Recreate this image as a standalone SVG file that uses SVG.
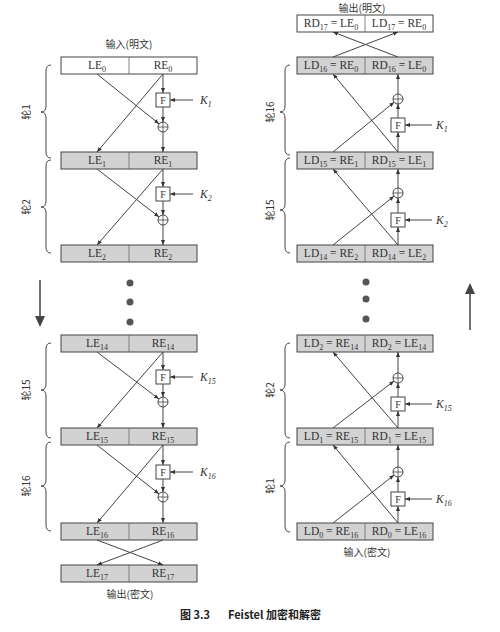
<svg xmlns="http://www.w3.org/2000/svg" width="500" height="632" viewBox="0 0 500 632">
<style>
.box{stroke:#444;stroke-width:1}
.w{fill:#fff}
.g{fill:#d2d2d2}
.div{stroke:#666;stroke-width:0.8}
.t{font-family:"Liberation Serif",serif;font-size:11.5px;fill:#333;text-anchor:middle}
.s{font-size:8px}
.arr{stroke:#444;stroke-width:1;fill:none;marker-end:url(#a)}
.fb{fill:#fff;stroke:#444;stroke-width:1}
.ft{font-family:"Liberation Serif",serif;font-size:10px;fill:#333;text-anchor:middle}
.k{font-family:"Liberation Serif",serif;font-size:11.5px;font-style:italic;fill:#333}
.cn{font-family:"Noto Sans CJK SC",sans-serif;font-size:10px;fill:#333;text-anchor:middle}
.br{stroke:#444;stroke-width:1;fill:none}
.dot{fill:#555}
</style>
<defs>
<marker id="a" viewBox="0 0 10 10" refX="10" refY="5" markerWidth="5" markerHeight="5" orient="auto" markerUnits="userSpaceOnUse"><path d="M0,1 L10,5 L0,9 z" fill="#333"/></marker>
<g id="xor"><circle r="5" fill="#fff" stroke="#444" stroke-width="1"/><path d="M-5,0 H5 M0,-5 V5" stroke="#444" stroke-width="0.8"/></g>
</defs>
<rect width="500" height="632" fill="#fff"/>

<!-- titles -->
<text class="cn" x="129" y="48">输入(明文)</text>
<text class="cn" x="130" y="598">输出(密文)</text>
<text class="cn" x="362" y="12" font-size="9">输出(明文)</text>
<text class="cn" x="367" y="556">输入(密文)</text>

<!-- LEFT boxes -->
<g id="L0"><rect class="box w" x="61" y="57" width="136" height="17"/><line class="div" x1="129" y1="57" x2="129" y2="74"/><text class="t" x="97" y="69">LE<tspan class="s" dy="3">0</tspan></text><text class="t" x="163" y="69">RE<tspan class="s" dy="3">0</tspan></text></g>
<g id="L1"><rect class="box g" x="61" y="152" width="136" height="17"/><line class="div" x1="129" y1="152" x2="129" y2="169"/><text class="t" x="97" y="164">LE<tspan class="s" dy="3">1</tspan></text><text class="t" x="163" y="164">RE<tspan class="s" dy="3">1</tspan></text></g>
<g id="L2"><rect class="box g" x="61" y="245" width="136" height="17"/><line class="div" x1="129" y1="245" x2="129" y2="262"/><text class="t" x="97" y="257">LE<tspan class="s" dy="3">2</tspan></text><text class="t" x="163" y="257">RE<tspan class="s" dy="3">2</tspan></text></g>
<g id="L14"><rect class="box g" x="61" y="335" width="136" height="17"/><line class="div" x1="129" y1="335" x2="129" y2="352"/><text class="t" x="97" y="347">LE<tspan class="s" dy="3">14</tspan></text><text class="t" x="163" y="347">RE<tspan class="s" dy="3">14</tspan></text></g>
<g id="L15"><rect class="box g" x="61" y="428" width="136" height="17"/><line class="div" x1="129" y1="428" x2="129" y2="445"/><text class="t" x="97" y="440">LE<tspan class="s" dy="3">15</tspan></text><text class="t" x="163" y="440">RE<tspan class="s" dy="3">15</tspan></text></g>
<g id="L16"><rect class="box g" x="61" y="523" width="136" height="17"/><line class="div" x1="129" y1="523" x2="129" y2="540"/><text class="t" x="97" y="535">LE<tspan class="s" dy="3">16</tspan></text><text class="t" x="163" y="535">RE<tspan class="s" dy="3">16</tspan></text></g>
<g id="L17"><rect class="box g" x="61" y="565" width="136" height="17"/><line class="div" x1="129" y1="565" x2="129" y2="582"/><text class="t" x="97" y="577">LE<tspan class="s" dy="3">17</tspan></text><text class="t" x="163" y="577">RE<tspan class="s" dy="3">17</tspan></text></g>

<!-- LEFT F and XOR -->
<g id="LF1"><rect class="fb" x="156" y="93" width="14" height="14"/><text class="ft" x="163" y="104">F</text></g>
<g id="LX1"><use href="#xor" x="163" y="127"/></g>
<g id="LF2"><rect class="fb" x="156" y="187" width="14" height="14"/><text class="ft" x="163" y="198">F</text></g>
<g id="LX2"><use href="#xor" x="163" y="220"/></g>
<g id="LF15"><rect class="fb" x="156" y="370" width="14" height="14"/><text class="ft" x="163" y="381">F</text></g>
<g id="LX15"><use href="#xor" x="163" y="402"/></g>
<g id="LF16"><rect class="fb" x="156" y="465" width="14" height="14"/><text class="ft" x="163" y="476">F</text></g>
<g id="LX16"><use href="#xor" x="163" y="497"/></g>

<!-- RIGHT boxes -->
<g id="R17"><rect class="box w" x="297" y="15" width="136" height="17"/><line class="div" x1="365" y1="15" x2="365" y2="32"/><text class="t" x="331" y="27">RD<tspan class="s" dy="3">17</tspan><tspan dy="-3"> = LE</tspan><tspan class="s" dy="3">0</tspan></text><text class="t" x="399" y="27">LD<tspan class="s" dy="3">17</tspan><tspan dy="-3"> = RE</tspan><tspan class="s" dy="3">0</tspan></text></g>
<g id="R16"><rect class="box g" x="297" y="57" width="136" height="17"/><line class="div" x1="365" y1="57" x2="365" y2="74"/><text class="t" x="331" y="69">LD<tspan class="s" dy="3">16</tspan><tspan dy="-3"> = RE</tspan><tspan class="s" dy="3">0</tspan></text><text class="t" x="399" y="69">RD<tspan class="s" dy="3">16</tspan><tspan dy="-3"> = LE</tspan><tspan class="s" dy="3">0</tspan></text></g>
<g id="R15"><rect class="box g" x="297" y="152" width="136" height="17"/><line class="div" x1="365" y1="152" x2="365" y2="169"/><text class="t" x="331" y="164">LD<tspan class="s" dy="3">15</tspan><tspan dy="-3"> = RE</tspan><tspan class="s" dy="3">1</tspan></text><text class="t" x="399" y="164">RD<tspan class="s" dy="3">15</tspan><tspan dy="-3"> = LE</tspan><tspan class="s" dy="3">1</tspan></text></g>
<g id="R14"><rect class="box g" x="297" y="245" width="136" height="17"/><line class="div" x1="365" y1="245" x2="365" y2="262"/><text class="t" x="331" y="257">LD<tspan class="s" dy="3">14</tspan><tspan dy="-3"> = RE</tspan><tspan class="s" dy="3">2</tspan></text><text class="t" x="399" y="257">RD<tspan class="s" dy="3">14</tspan><tspan dy="-3"> = LE</tspan><tspan class="s" dy="3">2</tspan></text></g>
<g id="R2"><rect class="box g" x="297" y="335" width="136" height="17"/><line class="div" x1="365" y1="335" x2="365" y2="352"/><text class="t" x="331" y="347">LD<tspan class="s" dy="3">2</tspan><tspan dy="-3"> = RE</tspan><tspan class="s" dy="3">14</tspan></text><text class="t" x="399" y="347">RD<tspan class="s" dy="3">2</tspan><tspan dy="-3"> = LE</tspan><tspan class="s" dy="3">14</tspan></text></g>
<g id="R1"><rect class="box g" x="297" y="428" width="136" height="17"/><line class="div" x1="365" y1="428" x2="365" y2="445"/><text class="t" x="331" y="440">LD<tspan class="s" dy="3">1</tspan><tspan dy="-3"> = RE</tspan><tspan class="s" dy="3">15</tspan></text><text class="t" x="399" y="440">RD<tspan class="s" dy="3">1</tspan><tspan dy="-3"> = LE</tspan><tspan class="s" dy="3">15</tspan></text></g>
<g id="R0"><rect class="box g" x="297" y="523" width="136" height="17"/><line class="div" x1="365" y1="523" x2="365" y2="540"/><text class="t" x="331" y="535">LD<tspan class="s" dy="3">0</tspan><tspan dy="-3"> = RE</tspan><tspan class="s" dy="3">16</tspan></text><text class="t" x="399" y="535">RD<tspan class="s" dy="3">0</tspan><tspan dy="-3"> = LE</tspan><tspan class="s" dy="3">16</tspan></text></g>

<!-- RIGHT F and XOR -->
<g id="RF16"><rect class="fb" x="391" y="118" width="14" height="14"/><text class="ft" x="398" y="129">F</text></g>
<g id="RX16"><use href="#xor" x="398" y="99"/></g>
<g id="RF15"><rect class="fb" x="391" y="213" width="14" height="14"/><text class="ft" x="398" y="224">F</text></g>
<g id="RX15"><use href="#xor" x="398" y="193"/></g>
<g id="RF2"><rect class="fb" x="391" y="397" width="14" height="14"/><text class="ft" x="398" y="408">F</text></g>
<g id="RX2"><use href="#xor" x="398" y="378"/></g>
<g id="RF1"><rect class="fb" x="391" y="492" width="14" height="14"/><text class="ft" x="398" y="503">F</text></g>
<g id="RX1"><use href="#xor" x="398" y="472"/></g>

<!-- key labels -->
<text class="k" x="200" y="104">K<tspan class="s" dy="3">1</tspan></text>
<text class="k" x="200" y="198">K<tspan class="s" dy="3">2</tspan></text>
<text class="k" x="200" y="381">K<tspan class="s" dy="3">15</tspan></text>
<text class="k" x="200" y="476">K<tspan class="s" dy="3">16</tspan></text>
<text class="k" x="436" y="129">K<tspan class="s" dy="3">1</tspan></text>
<text class="k" x="436" y="224">K<tspan class="s" dy="3">2</tspan></text>
<text class="k" x="436" y="408">K<tspan class="s" dy="3">15</tspan></text>
<text class="k" x="436" y="503">K<tspan class="s" dy="3">16</tspan></text>

<!-- connectors -->
<g id="connectors">
<line class="arr" x1="163" y1="74" x2="163" y2="93"/>
<line class="arr" x1="163" y1="107" x2="163" y2="122"/>
<line class="arr" x1="163" y1="132" x2="163" y2="152"/>
<line class="arr" x1="193" y1="100" x2="170" y2="100"/>
<line class="arr" x1="97" y1="74" x2="159.1" y2="123.9"/>
<line class="arr" x1="163" y1="74" x2="97" y2="152"/>
<line class="arr" x1="163" y1="169" x2="163" y2="187"/>
<line class="arr" x1="163" y1="201" x2="163" y2="215"/>
<line class="arr" x1="163" y1="225" x2="163" y2="245"/>
<line class="arr" x1="193" y1="194" x2="170" y2="194"/>
<line class="arr" x1="97" y1="169" x2="159" y2="216.9"/>
<line class="arr" x1="163" y1="169" x2="97" y2="245"/>
<line class="arr" x1="163" y1="352" x2="163" y2="370"/>
<line class="arr" x1="163" y1="384" x2="163" y2="397"/>
<line class="arr" x1="163" y1="407" x2="163" y2="428"/>
<line class="arr" x1="193" y1="377" x2="170" y2="377"/>
<line class="arr" x1="97" y1="352" x2="159" y2="399"/>
<line class="arr" x1="163" y1="352" x2="97" y2="428"/>
<line class="arr" x1="163" y1="445" x2="163" y2="465"/>
<line class="arr" x1="163" y1="479" x2="163" y2="492"/>
<line class="arr" x1="163" y1="502" x2="163" y2="523"/>
<line class="arr" x1="193" y1="472" x2="170" y2="472"/>
<line class="arr" x1="97" y1="445" x2="159.1" y2="493.9"/>
<line class="arr" x1="163" y1="445" x2="97" y2="523"/>
<line class="arr" x1="97" y1="540" x2="163" y2="565"/>
<line class="arr" x1="163" y1="540" x2="97" y2="565"/>
<line class="arr" x1="398" y1="152" x2="398" y2="132"/>
<line class="arr" x1="398" y1="118" x2="398" y2="104"/>
<line class="arr" x1="398" y1="94" x2="398" y2="74"/>
<line class="arr" x1="432" y1="125" x2="405" y2="125"/>
<line class="arr" x1="333" y1="152" x2="394.1" y2="102.2"/>
<line class="arr" x1="398" y1="152" x2="333" y2="74"/>
<line class="arr" x1="398" y1="245" x2="398" y2="227"/>
<line class="arr" x1="398" y1="213" x2="398" y2="198"/>
<line class="arr" x1="398" y1="188" x2="398" y2="169"/>
<line class="arr" x1="432" y1="220" x2="405" y2="220"/>
<line class="arr" x1="333" y1="245" x2="394.1" y2="196.1"/>
<line class="arr" x1="398" y1="245" x2="333" y2="169"/>
<line class="arr" x1="398" y1="428" x2="398" y2="411"/>
<line class="arr" x1="398" y1="397" x2="398" y2="383"/>
<line class="arr" x1="398" y1="373" x2="398" y2="352"/>
<line class="arr" x1="432" y1="404" x2="405" y2="404"/>
<line class="arr" x1="333" y1="428" x2="394" y2="381"/>
<line class="arr" x1="398" y1="428" x2="333" y2="352"/>
<line class="arr" x1="398" y1="523" x2="398" y2="506"/>
<line class="arr" x1="398" y1="492" x2="398" y2="477"/>
<line class="arr" x1="398" y1="467" x2="398" y2="445"/>
<line class="arr" x1="432" y1="499" x2="405" y2="499"/>
<line class="arr" x1="333" y1="523" x2="394.1" y2="475.1"/>
<line class="arr" x1="398" y1="523" x2="333" y2="445"/>
<line class="arr" x1="333" y1="57" x2="398" y2="32"/>
<line class="arr" x1="398" y1="57" x2="333" y2="32"/>
</g>

<!-- braces -->
<path class="br" d="M51,65 Q46,65 46,71 L46,106 Q46,112 41,112 Q46,112 46,118 L46,152 Q46,158 51,158"/>
<path class="br" d="M51,160 Q46,160 46,166 L46,201 Q46,207 41,207 Q46,207 46,213 L46,247 Q46,253 51,253"/>
<path class="br" d="M51,343 Q46,343 46,349 L46,384 Q46,390 41,390 Q46,390 46,396 L46,432 Q46,438 51,438"/>
<path class="br" d="M51,442 Q46,442 46,448 L46,480 Q46,486 41,486 Q46,486 46,492 L46,525 Q46,531 51,531"/>
<path class="br" d="M290,65 Q285,65 285,71 L285,106 Q285,112 280,112 Q285,112 285,118 L285,149 Q285,155 290,155"/>
<path class="br" d="M290,158 Q285,158 285,164 L285,204 Q285,210 280,210 Q285,210 285,216 L285,247 Q285,253 290,253"/>
<path class="br" d="M290,343 Q285,343 285,349 L285,384 Q285,390 280,390 Q285,390 285,396 L285,432 Q285,438 290,438"/>
<path class="br" d="M290,442 Q285,442 285,448 L285,480 Q285,486 280,486 Q285,486 285,492 L285,526 Q285,532 290,532"/>
<text class="cn" transform="translate(30,112) rotate(-90)">轮1</text>
<text class="cn" transform="translate(30,207) rotate(-90)">轮2</text>
<text class="cn" transform="translate(30,390) rotate(-90)">轮15</text>
<text class="cn" transform="translate(30,486) rotate(-90)">轮16</text>
<text class="cn" transform="translate(274,112) rotate(-90)">轮16</text>
<text class="cn" transform="translate(274,210) rotate(-90)">轮15</text>
<text class="cn" transform="translate(274,390) rotate(-90)">轮2</text>
<text class="cn" transform="translate(274,486) rotate(-90)">轮1</text>

<!-- dots and direction arrows -->
<circle class="dot" cx="130" cy="283" r="3.5"/>
<circle class="dot" cx="130" cy="302" r="3.5"/>
<circle class="dot" cx="130" cy="322" r="3.5"/>
<circle class="dot" cx="366" cy="282" r="3.5"/>
<circle class="dot" cx="366" cy="299" r="3.5"/>
<circle class="dot" cx="366" cy="319" r="3.5"/>
<line x1="40" y1="280" x2="40" y2="318" stroke="#444" stroke-width="1.5"/>
<path d="M35,316 L45,316 L40,327 z" fill="#444"/>
<line x1="470" y1="330" x2="470" y2="292" stroke="#444" stroke-width="1.5"/>
<path d="M465,294 L475,294 L470,283 z" fill="#444"/>

<!-- caption -->
<text font-family="Noto Sans CJK SC, sans-serif" font-size="11" font-weight="bold" fill="#222" y="619"><tspan x="180">图 3.3</tspan><tspan x="228">Feistel 加密和解密</tspan></text>
</svg>
